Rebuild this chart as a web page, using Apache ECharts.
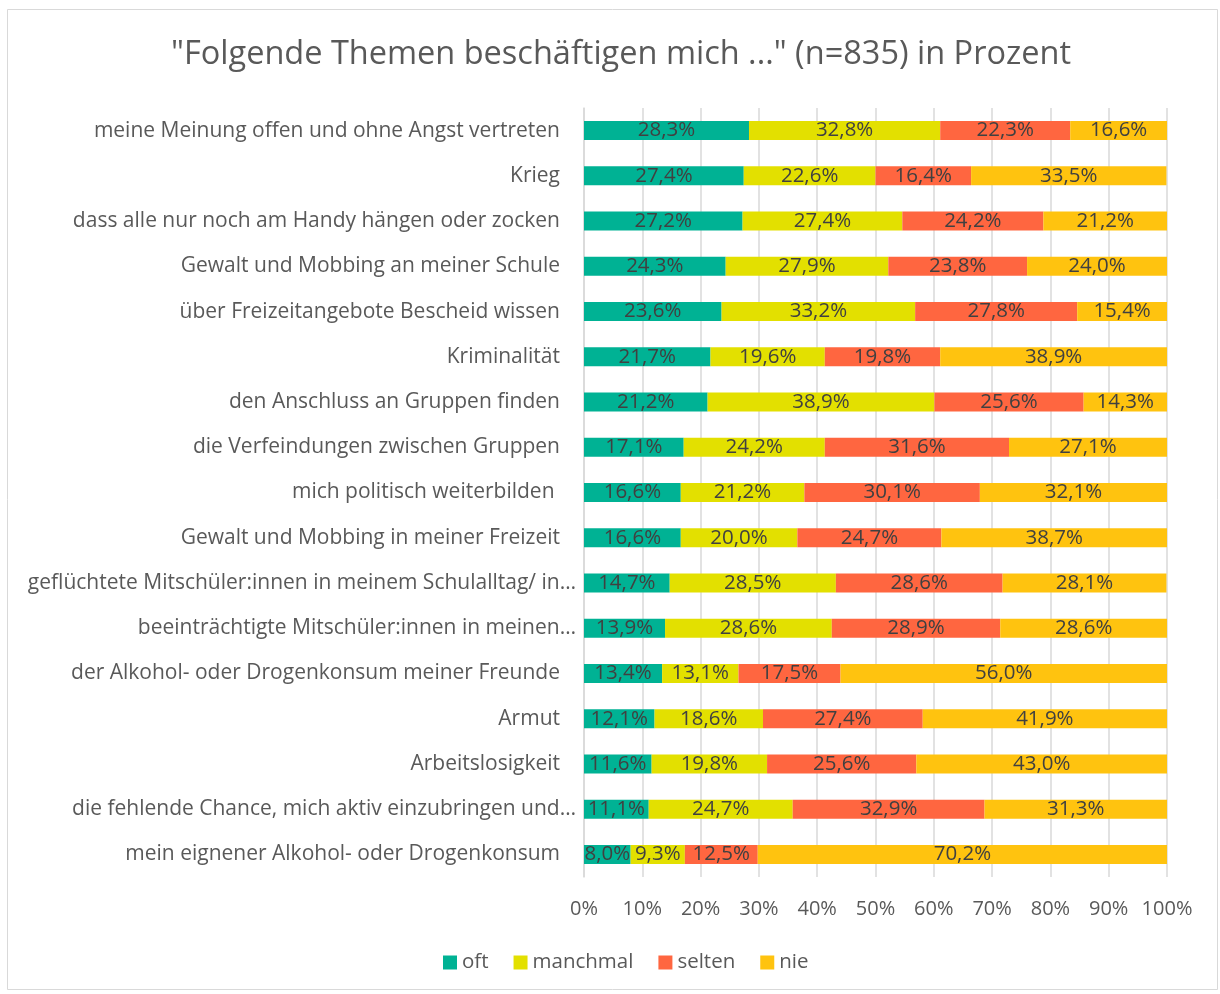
<!DOCTYPE html>
<html>
<head>
<meta charset="utf-8">
<script src="https://cdn.jsdelivr.net/npm/echarts@6/dist/echarts.min.js"></script>
<style>
  html, body { margin: 0; padding: 0; background: #fff; }
  #chart { width: 1220px; height: 994px; }
</style>
</head>
<body>
<div id="chart"></div>
<script>
// ── Data ──────────────────────────────────────────────────────────────────────
const categories = [
  'meine Meinung offen und ohne Angst vertreten',
  'Krieg',
  'dass alle nur noch am Handy hängen oder zocken',
  'Gewalt und Mobbing an meiner Schule',
  'über Freizeitangebote Bescheid wissen',
  'Kriminalität',
  'den Anschluss an Gruppen finden',
  'die Verfeindungen zwischen Gruppen',
  'mich politisch weiterbilden ',
  'Gewalt und Mobbing in meiner Freizeit',
  'geflüchtete Mitschüler:innen in meinem Schulalltag/ in…',
  'beeinträchtigte Mitschüler:innen in meinen…',
  'der Alkohol- oder Drogenkonsum meiner Freunde',
  'Armut',
  'Arbeitslosigkeit',
  'die fehlende Chance, mich aktiv einzubringen und…',
  'mein eignener Alkohol- oder Drogenkonsum',
];
const oft      = [28.3, 27.4, 27.2, 24.3, 23.6, 21.7, 21.2, 17.1, 16.6, 16.6, 14.7, 13.9, 13.4, 12.1, 11.6, 11.1, 8.0];
const manchmal = [32.8, 22.6, 27.4, 27.9, 33.2, 19.6, 38.9, 24.2, 21.2, 20.0, 28.5, 28.6, 13.1, 18.6, 19.8, 24.7, 9.3];
const selten   = [22.3, 16.4, 24.2, 23.8, 27.8, 19.8, 25.6, 31.6, 30.1, 24.7, 28.6, 28.9, 17.5, 27.4, 25.6, 32.9, 12.5];
const nie      = [16.6, 33.5, 21.2, 24.0, 15.4, 38.9, 14.3, 27.1, 32.1, 38.7, 28.1, 28.6, 56.0, 41.9, 43.0, 31.3, 70.2];

const seriesNames = ['oft', 'manchmal', 'selten', 'nie'];
const seriesData  = [oft, manchmal, selten, nie];
const colors      = ['#00B294', '#E3E000', '#FF6640', '#FFC30F'];

const FONT = '"Open Sans", "Noto Sans", sans-serif';

// ── Chart ─────────────────────────────────────────────────────────────────────
const chart = echarts.init(document.getElementById('chart'), null, { renderer: 'canvas' });

chart.setOption({
  backgroundColor: '#fff',
  animation: false,
  color: colors,
  title: {
    text: '"Folgende Themen beschäftigen mich ..." (n=835) in Prozent',
    left: 616,
    textAlign: 'center',
    top: 33,
    textStyle: { fontFamily: FONT, fontSize: 32.5, fontWeight: 'normal', color: '#595959' },
  },
  legend: {
    bottom: 16,
    left: 438,
    itemWidth: 14,
    itemHeight: 14,
    itemGap: 25,
    icon: 'rect',
    textStyle: { fontFamily: FONT, fontSize: 20.5, color: '#595959' },
    data: seriesNames,
  },
  grid: { left: 584, width: 583, top: 108, bottom: 117 },
  xAxis: {
    type: 'value',
    min: 0,
    max: 100,
    interval: 10,
    axisLabel: {
      fontFamily: FONT, fontSize: 20, color: '#595959', margin: 22,
      formatter: v => v + '%',
    },
    axisLine: { show: false },
    axisTick: { show: false },
    splitLine: { lineStyle: { color: '#d9d9d9', width: 1.5 } },
  },
  yAxis: {
    type: 'category',
    inverse: true,
    data: categories,
    axisLine: { lineStyle: { color: '#d9d9d9', width: 1.5 } },
    axisTick: { show: false },
    axisLabel: {
      fontFamily: FONT, fontSize: 21, color: '#595959', margin: 8,
      formatter: v => v.endsWith('…') ? v : '{n|' + v + '}',
      rich: { n: { fontFamily: FONT, fontSize: 21, color: '#595959', padding: [0, 16, 0, 0] } },
    },
  },
  series: seriesNames.map((name, i) => ({
    name,
    type: 'bar',
    stack: 'total',
    barWidth: 19,
    data: seriesData[i],
    itemStyle: { color: colors[i] },
    label: {
      show: true,
      position: 'inside',
      fontFamily: FONT,
      fontSize: 20.5,
      color: '#404040',
      formatter: p => p.value.toFixed(1).replace('.', ',') + '%',
    },
  })),
  graphic: [{
    type: 'rect',
    shape: { x: 7.5, y: 9.5, width: 1210, height: 980 },
    style: { fill: 'none', stroke: '#d9d9d9', lineWidth: 1 },
    silent: true,
  }],
});
</script>
</body>
</html>
